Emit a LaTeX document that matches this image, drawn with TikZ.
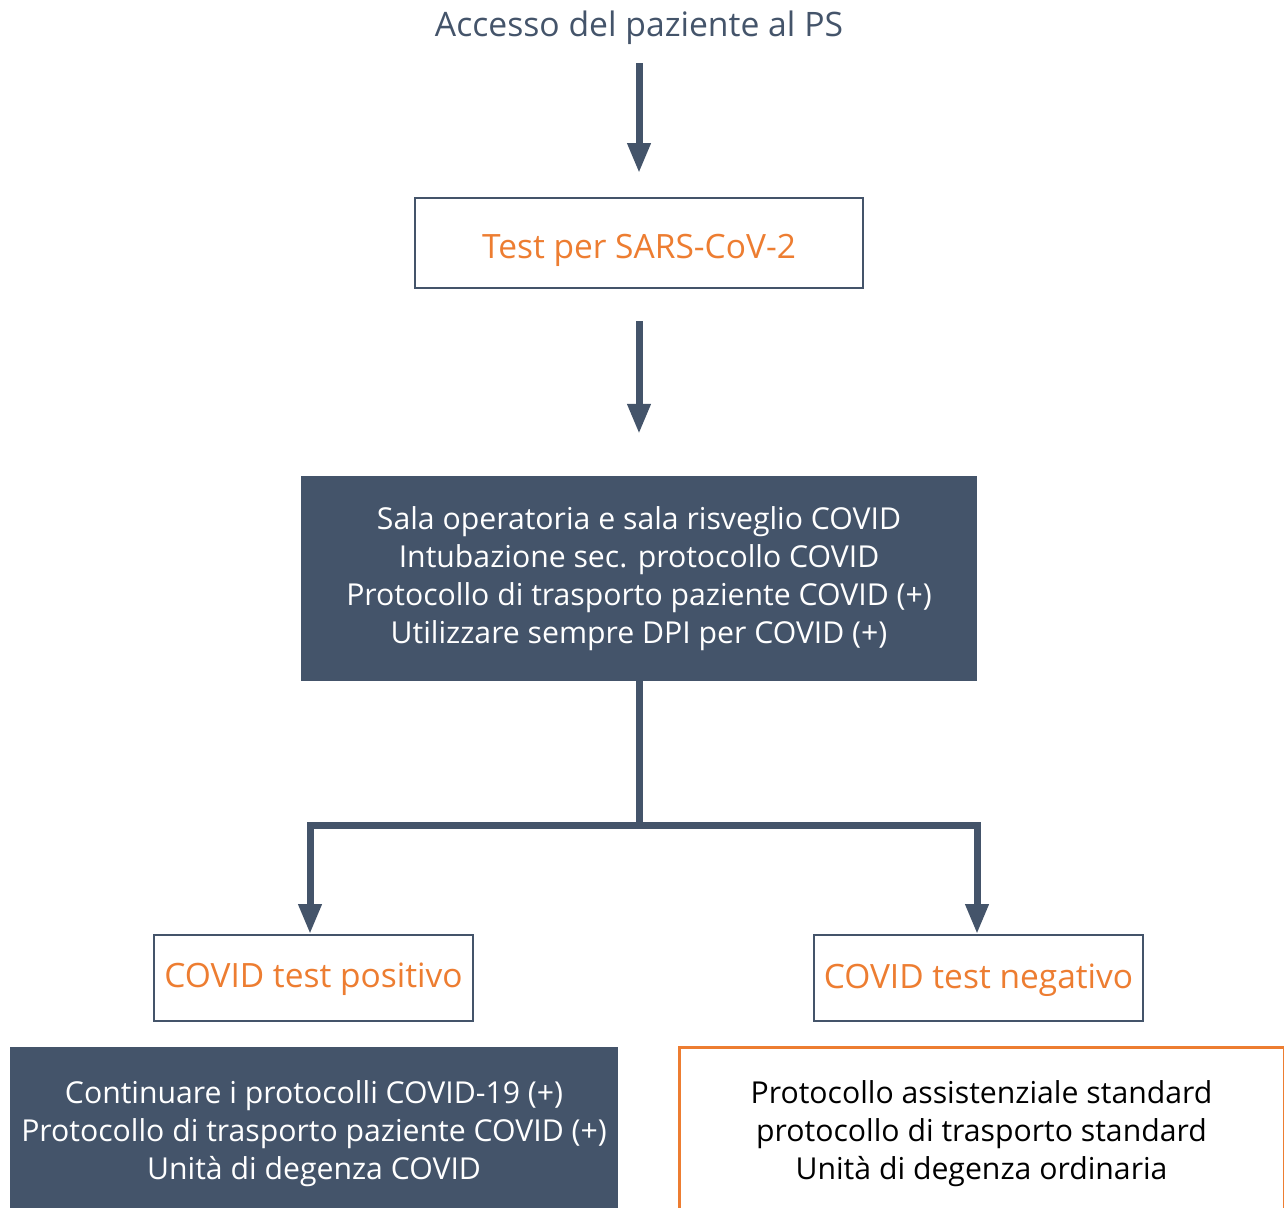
\documentclass[tikz,border=0pt]{standalone}
\usepackage{fontspec}
\setmainfont{Open Sans}[Ligatures=NoCommon]
\usetikzlibrary{arrows.meta}
\definecolor{slate}{HTML}{44546A}
\definecolor{accent}{HTML}{ED7D31}

\begin{document}
\begin{tikzpicture}[x=1pt,y=-1pt,
  flow/.style={draw=slate, line width=7pt, -{Triangle[width=22pt,length=30pt]}},
  link/.style={draw=slate, line width=7pt},
  outlinebox/.style={draw=slate, line width=2pt, fill=white, text=accent,
    inner sep=0pt, text depth=0pt, font=\fontsize{33.5}{36}\selectfont},
  darkbox/.style={fill=slate, text=white, align=center, inner sep=0pt,
    font=\fontsize{30.2}{38}\selectfont},
  plainbox/.style={draw=accent, line width=3pt, fill=white, text=black,
    align=center, inner sep=0pt, font=\fontsize{30.2}{38}\selectfont},
]
\useasboundingbox (0,0) rectangle (1284,1207);

% entry point
\node[text=slate, inner sep=0pt, anchor=base, font=\fontsize{33.7}{36}\selectfont]
  (title) at (639,37) {Accesso del paziente al PS};

% test box
\node[outlinebox, text height=30pt, minimum width=448pt, minimum height=90pt]
  (test) at (639,243) {Test per SARS-CoV-2};

% COVID pathway for all patients
\node[darkbox, minimum width=676pt, minimum height=205pt] (covid) at (639,578.5)
  {Sala operatoria e sala risveglio COVID\\
   Intubazione sec. protocollo COVID\\
   Protocollo di trasporto paziente COVID (+)\\
   Utilizzare sempre DPI per COVID (+)};

% test outcomes
\node[outlinebox, text height=18pt, minimum width=319pt, minimum height=86pt]
  (pos) at (313.5,978) {COVID test positivo};
\node[outlinebox, text height=20pt, minimum width=329pt, minimum height=86pt]
  (neg) at (978.5,978) {COVID test negativo};

% follow-up protocols (both run past the lower edge)
\node[darkbox, minimum width=608pt, minimum height=174pt] (posnext) at (314,1134)
  {Continuare i protocolli COVID-19 (+)\\
   Protocollo di trasporto paziente COVID (+)\\
   Unità di degenza COVID};
\node[plainbox, minimum width=605pt, minimum height=173pt] (negnext) at (981.5,1133.5)
  {Protocollo assistenziale standard\\
   protocollo di trasporto standard\\
   Unità di degenza ordinaria};

% connectors
\draw[flow, shorten <=18pt, shorten >=24pt] (title) -- (test);
\draw[flow, shorten <=32pt, shorten >=42pt] (test) -- (covid);
\coordinate (split) at (639,825);
\draw[link] (covid.south) -- (split);
\draw[flow] (split) -| ([xshift=-3.5pt]pos.north);
\draw[flow] (split) -| ([xshift=-1.5pt]neg.north);
\end{tikzpicture}
\end{document}
